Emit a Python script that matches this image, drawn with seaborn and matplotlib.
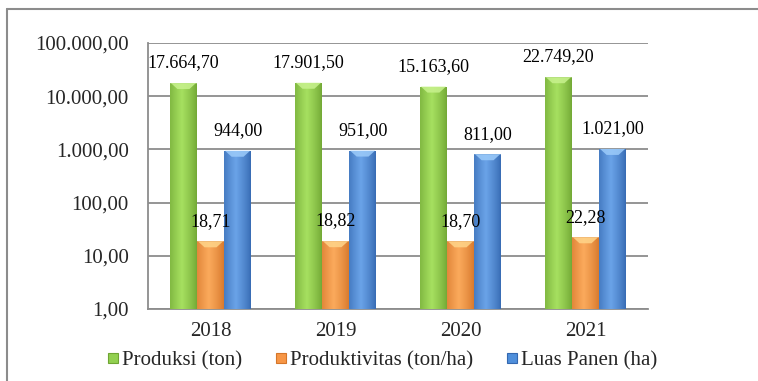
import numpy as np
import pandas as pd
import matplotlib
matplotlib.use("Agg")
import matplotlib.pyplot as plt
import matplotlib.colors as mcolors
from matplotlib.lines import Line2D
from matplotlib.patches import Polygon
import seaborn as sns

# ---- data ----
years = ["2018", "2019", "2020", "2021"]
series = ["Produksi (ton)", "Produktivitas (ton/ha)", "Luas Panen (ha)"]
produksi = [17664.70, 17901.50, 15163.60, 22749.20]
produktivitas = [18.71, 18.82, 18.70, 22.28]
luas_panen = [944.00, 951.00, 811.00, 1021.00]
ytick_values = [1, 10, 100, 1000, 10000, 100000]
ytick_labels = ["1,00", "10,00", "100,00", "1.000,00", "10.000,00", "100.000,00"]

base_colors = ["#92D050", "#F79646", "#4F8FDB"]
dark_colors = ["#6FA533", "#D5762A", "#3468B0"]
light_colors = ["#A6E060", "#FBAA5C", "#6AA3E8"]
bevel_colors = ["#C8F28E", "#FFD58A", "#9CCBFA"]

def fmt_id(v):
    s = f"{v:,.2f}"
    return s.replace(",", "X").replace(".", ",").replace("X", ".")

df = pd.DataFrame({
    "Tahun": years * 3,
    "Seri": [series[0]] * 4 + [series[1]] * 4 + [series[2]] * 4,
    "Nilai": produksi + produktivitas + luas_panen,
})

sns.set_style("white")
plt.rcParams["font.family"] = ["Liberation Serif", "DejaVu Serif"]

fig = plt.figure(figsize=(7.58, 3.81), dpi=100)
ax = fig.add_axes([148 / 758, 1 - 309 / 381, 500 / 758, 266 / 381])

sns.barplot(data=df, x="Tahun", y="Nilai", hue="Seri", hue_order=series,
            order=years, palette=base_colors, width=0.65, gap=0,
            legend=False, ax=ax, zorder=3, linewidth=0)
ax.set_yscale("log")
ax.set_ylim(1, 100000)
ax.set_xlim(-0.5, 3.5)

# gradient shading over the bars
ncols = 64
xx = np.linspace(0, 1, ncols)
prof = np.clip(1 - np.abs(xx - 0.42) / 0.58, 0, 1) ** 0.8
patches = list(ax.patches)
labels_to_draw = []
for i, p in enumerate(patches):
    h = p.get_height()
    if not np.isfinite(h) or h <= 0:
        continue
    si = i // len(years)
    c0 = np.array(mcolors.to_rgb(dark_colors[si]))
    c1 = np.array(mcolors.to_rgb(light_colors[si]))
    row = c0[None, :] * (1 - prof[:, None]) + c1[None, :] * prof[:, None]
    img = np.tile(row[None, :, :], (2, 1, 1))
    x0, w = p.get_x(), p.get_width()
    im = ax.imshow(img, extent=(x0, x0 + w, 1, h), aspect="auto",
                   interpolation="bilinear", zorder=4, origin="lower")
    im.set_clip_path(p)
    labels_to_draw.append((x0, w, h, si))

ax.set_xlim(-0.5, 3.5)
ax.set_ylim(1, 100000)
ax.set_aspect("auto")

for x0, w, h, si in labels_to_draw:
    # top bevel highlight (display coords)
    (xl, yt) = ax.transData.transform((x0, h))
    (xr, _) = ax.transData.transform((x0 + w, h))
    bw = xr - xl
    poly = Polygon([(xl + 1, yt), (xr - 1, yt), (xl + 0.72 * bw, yt - 6),
                    (xl + 0.28 * bw, yt - 6)], closed=True, transform=None,
                   facecolor=bevel_colors[si], edgecolor="none", alpha=0.85, zorder=5)
    ax.add_artist(poly)
    ax.annotate(fmt_id(h), (x0 + w / 2, h), xytext=(0, 14.5),
                textcoords="offset points", ha="center", va="center",
                fontsize=13, color="black", zorder=6)

# axes styling
ax.set_yticks(ytick_values)
ax.set_yticklabels(ytick_labels, fontsize=15)
ax.yaxis.set_minor_locator(matplotlib.ticker.NullLocator())
ax.set_xticks([-0.5, 0.5, 1.5, 2.5, 3.5])
ax.set_xticklabels([])
ax.set_xticks(range(len(years)), minor=True)
ax.set_xticklabels(years, minor=True, fontsize=15)
ax.tick_params(axis="x", which="minor", length=0, pad=9)
ax.tick_params(axis="x", which="major", length=6, width=1.3, color="#8C8C8C", direction="out")
ax.tick_params(axis="y", which="major", length=6, width=1.3, color="#8C8C8C", direction="out", pad=8)
ax.grid(axis="y", which="major", color="#8C8C8C", linewidth=1.3, zorder=0)
ax.set_axisbelow(True)
for s in ["top", "right"]:
    ax.spines[s].set_visible(False)
for s in ["left", "bottom"]:
    ax.spines[s].set_color("#8C8C8C")
    ax.spines[s].set_linewidth(1.3)
ax.set_xlabel("")
ax.set_ylabel("")

# legend
handles = [Line2D([], [], marker="s", linestyle="none", markersize=7,
                  markerfacecolor=base_colors[i], markeredgecolor=dark_colors[i],
                  markeredgewidth=0.8) for i in range(3)]
fig.legend(handles, series, loc="center", bbox_to_anchor=(0.505, 1 - 361 / 381),
           ncol=3, frameon=False, fontsize=15, handlelength=0.5,
           handletextpad=0.2, columnspacing=1.6, borderaxespad=0, borderpad=0)

# outer border (partially visible)
fig.add_artist(Line2D([7 / 758, 7 / 758], [0, 1 - 9 / 381], transform=fig.transFigure,
                      color="#8C8C8C", linewidth=1.5))
fig.add_artist(Line2D([7 / 758, 1], [1 - 9 / 381, 1 - 9 / 381], transform=fig.transFigure,
                      color="#8C8C8C", linewidth=1.5))

fig.savefig("out.png", dpi=100)
